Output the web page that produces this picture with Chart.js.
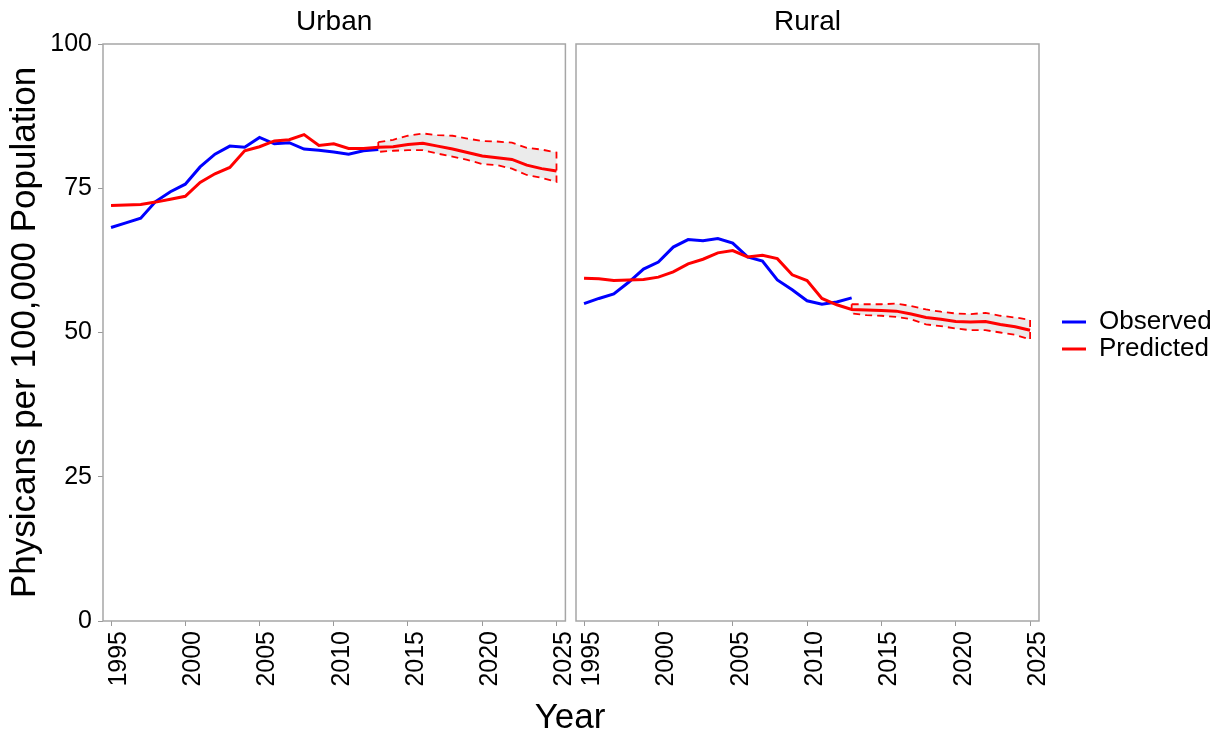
<!DOCTYPE html>
<html>
<head>
<meta charset="utf-8">
<script src="https://cdn.jsdelivr.net/npm/chart.js@4.4.1/dist/chart.umd.min.js"></script>
<style>
  html, body { margin: 0; padding: 0; background: #fff; }
  #wrap { position: relative; width: 1220px; height: 730px; overflow: hidden; font-family: "Liberation Sans", Arial, sans-serif; }
  #urbanBox { position: absolute; left: 0; top: 0; width: 592px; height: 730px; }
  #ruralBox { position: absolute; left: 536px; top: 0; width: 684px; height: 730px; }
  #xTitle { position: absolute; left: 0; width: 1140px; top: 696px; height: 40px; line-height: 40px; text-align: center; font-size: 35px; color: #000; }
</style>
</head>
<body>
<div id="wrap">
  <div id="urbanBox"><canvas id="urban"></canvas></div>
  <div id="ruralBox"><canvas id="rural"></canvas></div>
  <div id="xTitle">Year</div>
</div>
<script>
// Years covered by observed and predicted series
const years = [1995, 1996, 1997, 1998, 1999, 2000, 2001, 2002, 2003, 2004, 2005, 2006, 2007, 2008, 2009, 2010,
               2011, 2012, 2013, 2014, 2015, 2016, 2017, 2018, 2019, 2020, 2021, 2022, 2023, 2024, 2025];
// Years with a forecast interval
const forecastYears = [2013, 2014, 2015, 2016, 2017, 2018, 2019, 2020, 2021, 2022, 2023, 2024, 2025];

const xTicks = [1995, 2000, 2005, 2010, 2015, 2020, 2025];
const yTicks = [0, 25, 50, 75, 100];
const legendNames = ['Observed', 'Predicted'];

// Urban physicians per 100,000
const urbanObserved = [68.2, 69.0, 69.8, 72.7, 74.4, 75.7, 78.7, 80.9, 82.3, 82.1, 83.8, 82.7, 82.9, 81.8, 81.6, 81.3,
                       80.9, 81.5, 81.7];
const urbanPredicted = [72.0, 72.1, 72.2, 72.6, 73.1, 73.6, 76.0, 77.5, 78.6, 81.5, 82.2, 83.2, 83.4, 84.3, 82.4, 82.7,
                        81.9, 81.9, 82.1, 82.2, 82.6, 82.8, 82.3, 81.8, 81.2, 80.6, 80.3, 80.0, 79.0, 78.4, 78.0];
const urbanUpper = [83.0, 83.4, 84.1, 84.5, 84.2, 84.1, 83.6, 83.2, 83.1, 82.9, 82.0, 81.7, 81.2];
const urbanLower = [81.3, 81.5, 81.6, 81.6, 81.0, 80.5, 79.9, 79.2, 79.0, 78.4, 77.3, 76.8, 76.1];

// Rural physicians per 100,000
const ruralObserved = [55.0, 55.9, 56.7, 58.7, 61.0, 62.2, 64.8, 66.1, 65.9, 66.3, 65.5, 63.1, 62.4, 59.1, 57.4, 55.5,
                       54.9, 55.3, 56.0];
const ruralPredicted = [59.4, 59.3, 59.0, 59.1, 59.2, 59.6, 60.5, 61.9, 62.7, 63.8, 64.2, 63.1, 63.4, 62.8, 60.0, 59.0,
                        55.9, 54.8, 54.0, 53.9, 53.8, 53.7, 53.2, 52.6, 52.3, 51.9, 51.8, 51.9, 51.4, 51.0, 50.4];
const ruralUpper = [54.9, 54.9, 54.9, 55.0, 54.6, 54.0, 53.6, 53.3, 53.2, 53.4, 52.9, 52.6, 52.2];
const ruralLower = [53.3, 53.0, 52.9, 52.7, 52.3, 51.4, 51.1, 50.7, 50.4, 50.4, 50.0, 49.6, 48.8];

Chart.defaults.font.family = '"Liberation Sans", Arial, sans-serif';
Chart.defaults.color = '#000';

const toPoints = (xs, ys) => ys.map((v, i) => ({ x: xs[i], y: v }));

// Closed polygon around the forecast interval: upper edge forward, lower edge back
function bandPolygon(up, lo) {
  const upper = toPoints(forecastYears, up);
  const lower = toPoints(forecastYears, lo).reverse();
  return [...upper, ...lower, upper[0]];
}

// Grey box round each panel
const panelFrame = {
  id: 'panelFrame',
  afterDatasetsDraw(chart) {
    const { ctx, chartArea: a } = chart;
    ctx.save();
    ctx.strokeStyle = '#a6a6a6';
    ctx.lineWidth = 1.5;
    ctx.strokeRect(a.left, a.top, a.right - a.left, a.bottom - a.top);
    ctx.restore();
  }
};

// Leave a gap between the panel and the legend keys, and let the labels use the remaining width
const legendGap = {
  id: 'legendGap',
  afterLayout(chart) {
    const lg = chart.legend;
    if (lg && lg.options.display) {
      lg.left += 22;
      lg.right = chart.width;
      lg.width = lg.right - lg.left;
      lg.top += 3;
      lg.bottom += 3;
    }
  }
};

function makePanel(canvasId, name, obs, pred, up, lo, isLeft) {
  return new Chart(document.getElementById(canvasId), {
    type: 'scatter',
    data: {
      datasets: [
        { label: 'Observed', data: toPoints(years, obs), showLine: true, borderColor: '#0000ff', backgroundColor: '#0000ff',
          borderWidth: 3, pointRadius: 0, fill: false, order: 1 },
        { label: 'Predicted', data: toPoints(years, pred), showLine: true, borderColor: '#ff0000', backgroundColor: '#ff0000',
          borderWidth: 3, pointRadius: 0, fill: false, order: 0 },
        { label: 'Interval', data: bandPolygon(up, lo), showLine: true, borderColor: '#ff0000', backgroundColor: '#ebebeb',
          borderWidth: 1.8, borderDash: [7, 5], pointRadius: 0, fill: 'shape', order: 2 }
      ]
    },
    options: {
      responsive: true,
      maintainAspectRatio: false,
      animation: false,
      events: [],
      layout: { padding: isLeft ? { left: 0, right: 0, top: 0, bottom: 0 } : { left: 0, right: 41, top: 0, bottom: 0 } },
      scales: {
        x: {
          type: 'linear', min: 1994.46, max: 2025.6,
          afterBuildTicks: s => { s.ticks = xTicks.map(v => ({ value: v })); },
          afterFit: s => { s.height = 109; },
          ticks: { minRotation: 90, maxRotation: 90, autoSkip: false, padding: 5, labelOffset: 8,
                   font: { size: 25 }, color: '#000', callback: v => String(v) },
          grid: { drawOnChartArea: false, drawTicks: true, tickLength: 5, color: '#999' },
          border: { display: false }
        },
        y: {
          type: 'linear', min: 0, max: 100,
          afterBuildTicks: s => { s.ticks = yTicks.map(v => ({ value: v })); },
          afterFit: s => { s.width = isLeft ? 103 : 40; },
          ticks: { display: isLeft, padding: 6, font: { size: 25 }, color: '#000' },
          grid: { display: isLeft, drawOnChartArea: false, drawTicks: true, tickLength: 5, color: '#999' },
          border: { display: false },
          title: { display: isLeft, text: 'Physicans per 100,000 Population', font: { size: 35 }, color: '#000',
                   padding: { top: 4, bottom: 0 } }
        }
      },
      plugins: {
        title: { display: true, text: name, fullSize: false, font: { size: 28, weight: 'normal' }, color: '#000',
                 padding: { top: 5, bottom: 5.4 } },
        legend: isLeft ? { display: false } : {
          display: true, position: 'right', align: 'center', fullSize: false, maxWidth: 140,
          labels: {
            usePointStyle: true, pointStyle: 'line', pointStyleWidth: 24, padding: 1,
            font: { size: 26 }, color: '#000',
            filter: item => legendNames.includes(item.text),
            sort: (a, b) => legendNames.indexOf(a.text) - legendNames.indexOf(b.text)
          }
        },
        tooltip: { enabled: false }
      }
    },
    plugins: [panelFrame, legendGap]
  });
}

makePanel('urban', 'Urban', urbanObserved, urbanPredicted, urbanUpper, urbanLower, true);
makePanel('rural', 'Rural', ruralObserved, ruralPredicted, ruralUpper, ruralLower, false);
</script>
</body>
</html>
